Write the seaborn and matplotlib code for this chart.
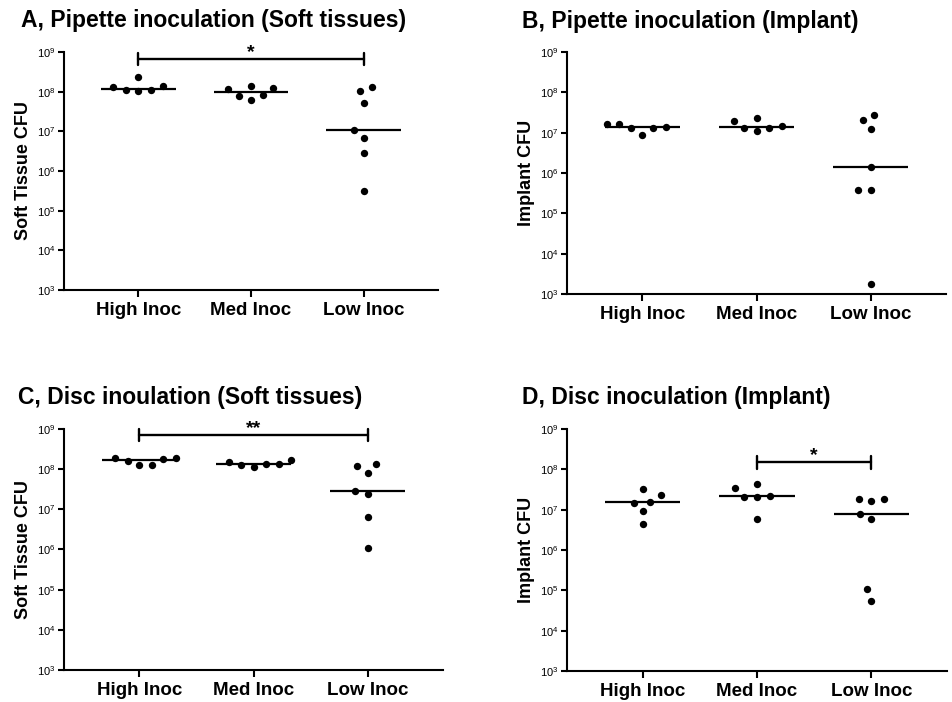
import pandas as pd
import matplotlib
matplotlib.use("Agg")
import matplotlib.pyplot as plt
import matplotlib.ticker as mticker
import seaborn as sns

# groups on the x axis
groups = ["High Inoc", "Med Inoc", "Low Inoc"]

# A, pipette inoculation, soft tissue CFU
a_high = [2.4e8, 1.4e8, 1.12e8, 1.12e8, 1.28e8, 1.06e8]
a_med = [1.4e8, 1.23e8, 1.16e8, 8.1e7, 7.6e7, 6.25e7]
a_low = [1.28e8, 1.02e8, 5.15e7, 1.1e7, 6.9e6, 2.8e6, 3.2e5]

# B, pipette inoculation, implant CFU
b_high = [1.66e7, 1.63e7, 1.4e7, 1.3e7, 1.27e7, 8.85e6]
b_med = [2.3e7, 2.0e7, 1.43e7, 1.3e7, 1.27e7, 1.07e7]
b_low = [2.8e7, 2.1e7, 1.22e7, 1.37e6, 3.8e5, 3.8e5, 1.77e3]

# C, disc inoculation, soft tissue CFU
c_high = [1.89e8, 1.89e8, 1.82e8, 1.62e8, 1.29e8, 1.24e8]
c_med = [1.66e8, 1.5e8, 1.37e8, 1.34e8, 1.24e8, 1.11e8]
c_low = [1.34e8, 1.22e8, 8.0e7, 2.9e7, 2.4e7, 6.6e6, 1.12e6]

# D, disc inoculation, implant CFU
d_high = [3.16e7, 2.29e7, 1.59e7, 1.5e7, 9.0e6, 4.35e6]
d_med = [4.3e7, 3.35e7, 2.2e7, 2.08e7, 2.08e7, 6.0e6]
d_low = [1.85e7, 1.85e7, 1.62e7, 7.87e6, 5.8e6, 1.05e5, 5.5e4]

# decade ticks on the CFU axis
y_ticks = [1e3, 1e4, 1e5, 1e6, 1e7, 1e8, 1e9]

titles = ["A, Pipette inoculation (Soft tissues)", "B, Pipette inoculation (Implant)",
          "C, Disc inoulation (Soft tissues)", "D, Disc inoculation (Implant)"]
ylabels = ["Soft Tissue CFU", "Implant CFU", "Soft Tissue CFU", "Implant CFU"]

# significance bars: panel, group from, group to, bar height, label
brackets = [(0, 0, 2, 6.6e8, "*"), (2, 0, 2, 6.9e8, "**"), (3, 1, 2, 1.48e8, "*")]


def make_frame(high, med, low):
    """Long table with one row per animal."""
    rows = [(g, v) for g, vals in zip(groups, [high, med, low]) for v in vals]
    return pd.DataFrame(rows, columns=["group", "cfu"])


def draw_bracket(ax, x1, x2, y, label):
    """Bar with end ticks and the star label above it."""
    lo, hi = y / 10 ** 0.15, y * 10 ** 0.15
    ax.plot([x1, x2], [y, y], color="black", lw=1.7, clip_on=False)
    ax.plot([x1, x1], [lo, hi], color="black", lw=1.7, clip_on=False)
    ax.plot([x2, x2], [lo, hi], color="black", lw=1.7, clip_on=False)
    ax.text((x1 + x2) / 2, y * 10 ** 0.05, label, ha="center", va="baseline",
            fontsize=14, fontweight="bold", clip_on=False)


def plot_panel(ax, df, ylabel):
    """Median line plus swarm of the single values."""
    sns.boxplot(data=df, x="group", y="cfu", order=groups, ax=ax, log_scale=True,
                width=0.66, showbox=False, showcaps=False, showfliers=False,
                whiskerprops={"visible": False},
                medianprops={"color": "black", "linewidth": 1.6})
    # transparent edge only widens the spacing of the swarm
    sns.swarmplot(data=df, x="group", y="cfu", order=groups, ax=ax, log_scale=True,
                  color="black", size=5.3, linewidth=3.5, edgecolor=(0, 0, 0, 0))
    ax.set_ylim(1e3, 1e9)
    ax.set_xlim(-0.66, 2.66)
    ax.yaxis.set_major_locator(mticker.FixedLocator(y_ticks))
    ax.yaxis.set_major_formatter(mticker.LogFormatterSciNotation())
    ax.yaxis.set_minor_locator(mticker.NullLocator())
    ax.set_xlabel("")
    ax.set_ylabel(ylabel, fontsize=13, fontweight="bold", labelpad=4)
    ax.tick_params(axis="y", labelsize=8, length=4, width=1.5, pad=2)
    ax.tick_params(axis="x", labelsize=13.5, length=5, width=1.5, pad=4)
    for lab in ax.get_xticklabels():
        lab.set_fontweight("bold")
    for side in ["left", "bottom"]:
        ax.spines[side].set_linewidth(1.5)
    sns.despine(ax=ax)


def main():
    sns.set_style("ticks")
    plt.rcParams["font.family"] = ["Liberation Sans", "DejaVu Sans"]
    plt.rcParams["mathtext.fontset"] = "custom"
    plt.rcParams["mathtext.rm"] = "Liberation Sans:bold"
    plt.rcParams["mathtext.default"] = "rm"
    for key in ["text.color", "axes.labelcolor", "xtick.color", "ytick.color",
                "axes.edgecolor"]:
        plt.rcParams[key] = "black"

    fig = plt.figure(figsize=(9.53, 7.02), dpi=100)
    boxes = [[0.0672, 0.5869, 0.3924, 0.339], [0.595, 0.5812, 0.3977, 0.3447],
             [0.0672, 0.0456, 0.3977, 0.3433], [0.595, 0.0442, 0.3987, 0.3447]]
    title_pos = [(0.022, 0.971), (0.548, 0.970), (0.019, 0.434), (0.548, 0.434)]

    frames = [make_frame(a_high, a_med, a_low), make_frame(b_high, b_med, b_low),
              make_frame(c_high, c_med, c_low), make_frame(d_high, d_med, d_low)]

    axes = []
    for i, df in enumerate(frames):
        ax = fig.add_axes(boxes[i])
        plot_panel(ax, df, ylabels[i])
        fig.text(title_pos[i][0], title_pos[i][1], titles[i], fontsize=16.5,
                 fontweight="bold", va="center", ha="left")
        axes.append(ax)

    for panel, x1, x2, y, label in brackets:
        draw_bracket(axes[panel], x1, x2, y, label)

    fig.savefig("out.png", dpi=100)


if __name__ == "__main__":
    main()
